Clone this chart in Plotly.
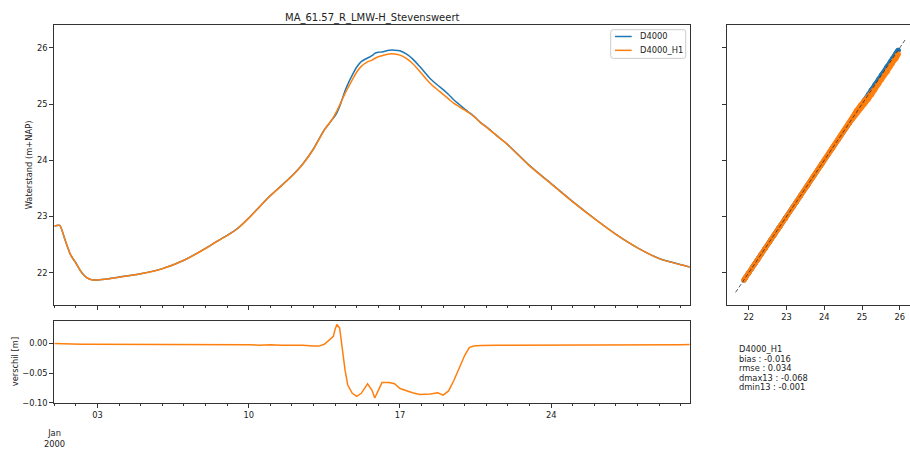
import numpy as np
import pandas as pd
import plotly.graph_objects as go

# ---- data ---------------------------------------------------------------
START = pd.Timestamp("2000-01-01 00:00")

# hours after START
HOURS = [0, 6, 12, 18, 24, 30, 36, 42, 48, 60, 72, 96, 120, 144, 168, 180,
         192, 204, 216, 228, 240, 252, 264, 276, 288, 294, 300, 306, 310, 312,
         314, 317, 319, 323, 326, 331, 336, 341, 348, 353, 356, 360, 364, 372,
         378, 384, 391, 398, 406, 418, 426, 432, 438, 444, 450, 456, 461, 466,
         474, 480, 492, 504, 528, 552, 576, 600, 624, 648, 672, 696, 706]

# water level of run D4000_H1 (m+NAP)
D4000_H1 = [22.83, 22.84, 22.58, 22.32, 22.17, 22.01, 21.91, 21.87, 21.87, 21.89,
            21.92, 21.98, 22.07, 22.22, 22.43, 22.55, 22.66, 22.79, 22.97, 23.17,
            23.37, 23.54, 23.72, 23.93, 24.20, 24.37, 24.54, 24.67, 24.76, 24.82,
            24.88, 24.98, 25.05, 25.19, 25.28, 25.43, 25.57, 25.67, 25.75, 25.78,
            25.81, 25.84, 25.86, 25.89, 25.89, 25.87, 25.81, 25.72, 25.58, 25.36,
            25.25, 25.17, 25.09, 25.01, 24.95, 24.89, 24.84, 24.78, 24.66, 24.59,
            24.43, 24.27, 23.90, 23.58, 23.26, 22.96, 22.68, 22.44, 22.25, 22.14,
            22.10]

# difference D4000_H1 - D4000 (m)
VERSCHIL = [0.000, -0.0005, -0.001, -0.0015, -0.0015, -0.0015, -0.0015, -0.0015,
            -0.0015, -0.0015, -0.0015, -0.0015, -0.0015, -0.0015, -0.002, -0.0015,
            -0.002, -0.0025, -0.002, -0.003, -0.002, -0.003, -0.0025, -0.003,
            -0.0045, -0.0045, -0.0015, 0.006, 0.012, 0.024, 0.032, 0.026, 0.002,
            -0.045, -0.070, -0.084, -0.089, -0.084, -0.068, -0.079, -0.092, -0.080,
            -0.066, -0.066, -0.068, -0.076, -0.080, -0.083, -0.086, -0.085, -0.083,
            -0.087, -0.080, -0.062, -0.041, -0.020, -0.007, -0.0045, -0.0035,
            -0.003, -0.003, -0.003, -0.003, -0.003, -0.0025, -0.003, -0.0025,
            -0.0025, -0.002, -0.002, -0.0017]

TITLE = "MA_61.57_R_LMW-H_Stevensweert"
SERIES_NAMES = ["D4000", "D4000_H1"]
STATS_LINES = ["D4000_H1", "bias : -0.016", "rmse : 0.034",
               "dmax13 : -0.068", "dmin13 : -0.001"]
DIAG = [21.65, 26.16]

times = START + pd.to_timedelta(HOURS, unit="h")
h1 = np.array(D4000_H1)
verschil = np.array(VERSCHIL)
d4000 = h1 - verschil

# ---- styling --------------------------------------------------------------
W, H = 910, 452
BLUE, ORANGE = "#1f77b4", "#ff7f0e"
COLORS = [BLUE, ORANGE]
AX = "#333333"
TXT = "#222222"
FONT = "DejaVu Sans"
FS = 8.3


def fx(px):
    return px / W


def fy(py):
    return 1 - py / H


DAY = 86400000

fig = go.Figure()

# main time series
fig.add_trace(go.Scatter(x=times, y=d4000, name=SERIES_NAMES[0], mode="lines",
                         line=dict(color=BLUE, width=1.5, shape="spline", smoothing=0.6),
                         xaxis="x", yaxis="y", showlegend=False))
fig.add_trace(go.Scatter(x=times, y=h1, name=SERIES_NAMES[1], mode="lines",
                         line=dict(color=ORANGE, width=1.5, shape="spline", smoothing=0.6),
                         xaxis="x", yaxis="y", showlegend=False))

# difference
fig.add_trace(go.Scatter(x=times, y=verschil, mode="lines", showlegend=False,
                         line=dict(color=ORANGE, width=1.5),
                         xaxis="x2", yaxis="y2"))

# scatter of both runs against D4000
fig.add_trace(go.Scatter(x=d4000, y=d4000, mode="lines+markers", showlegend=False,
                         line=dict(color=BLUE, width=5),
                         marker=dict(color=BLUE, size=5),
                         xaxis="x3", yaxis="y3"))
fig.add_trace(go.Scatter(x=d4000, y=h1, mode="lines+markers", showlegend=False,
                         line=dict(color=ORANGE, width=5),
                         marker=dict(color=ORANGE, size=5),
                         xaxis="x3", yaxis="y3"))
fig.add_trace(go.Scatter(x=DIAG, y=DIAG, mode="lines", showlegend=False,
                         line=dict(color="rgba(40,40,40,0.75)", width=1, dash="4px,2px"),
                         xaxis="x3", yaxis="y3"))

axis_common = dict(showline=True, linecolor=AX, linewidth=1, ticks="outside",
                   ticklen=4, tickwidth=1, tickcolor=AX, showgrid=False,
                   zeroline=False, tickfont=dict(family=FONT, size=FS, color=TXT))

t_end = START + pd.Timedelta(hours=706)
date_ticks = dict(tickmode="linear", tick0="2000-01-03", dtick=7 * DAY,
                  tickformat="%d",
                  minor=dict(ticks="outside", ticklen=2, tickcolor=AX,
                             tick0="2000-01-01", dtick=DAY, showgrid=False))

main_dom_x = [fx(54.3), fx(689.8)]
main_dom_y = [fy(308), fy(25.3)]

fig.update_layout(
    width=W, height=H, margin=dict(l=0, r=0, t=0, b=0),
    paper_bgcolor="white", plot_bgcolor="white", showlegend=False,
    font=dict(family=FONT, size=FS, color=TXT),
    xaxis=dict(domain=main_dom_x, anchor="y", matches="x2", mirror=True,
               showticklabels=False, **date_ticks, **axis_common),
    yaxis=dict(domain=main_dom_y, anchor="x", range=[21.432, 26.405],
               tickmode="linear", tick0=22, dtick=1, mirror=True, **axis_common),
    xaxis2=dict(domain=main_dom_x, anchor="y2", range=[START, t_end], mirror=True,
                **date_ticks, **axis_common),
    yaxis2=dict(domain=[fy(407.3), fy(324.3)], anchor="x2", range=[-0.1, 0.0383],
                tickmode="array", tickvals=[-0.10, -0.05, 0.0],
                ticktext=["\u22120.10", "\u22120.05", "0.00"], mirror=True,
                **axis_common),
    xaxis3=dict(domain=[fx(727.3), 1.0], anchor="y3", range=[21.43, 26.27],
                tickmode="linear", tick0=22, dtick=1, mirror=True, **axis_common),
    yaxis3=dict(domain=main_dom_y, anchor="x3", range=[21.432, 26.405],
                tickmode="linear", tick0=22, dtick=1, showticklabels=False,
                **axis_common),
)

# legend box (rounded frame, line samples and labels)
lx0, lx1, ly0, ly1, r = 610.7, 685.7, 30.0, 59.0, 2.5
frame = (f"M {fx(lx0 + r)},{fy(ly0)} L {fx(lx1 - r)},{fy(ly0)} "
         f"Q {fx(lx1)},{fy(ly0)} {fx(lx1)},{fy(ly0 + r)} "
         f"L {fx(lx1)},{fy(ly1 - r)} Q {fx(lx1)},{fy(ly1)} {fx(lx1 - r)},{fy(ly1)} "
         f"L {fx(lx0 + r)},{fy(ly1)} Q {fx(lx0)},{fy(ly1)} {fx(lx0)},{fy(ly1 - r)} "
         f"L {fx(lx0)},{fy(ly0 + r)} Q {fx(lx0)},{fy(ly0)} {fx(lx0 + r)},{fy(ly0)} Z")
shapes = [dict(type="path", path=frame, xref="paper", yref="paper",
               line=dict(color="#cccccc", width=1),
               fillcolor="rgba(255,255,255,0.8)", layer="above")]
annotations = []
for i, (name, col) in enumerate(zip(SERIES_NAMES, COLORS)):
    yy = 36.9 + 14.0 * i
    shapes.append(dict(type="line", xref="paper", yref="paper",
                       x0=fx(615), x1=fx(631.7), y0=fy(yy), y1=fy(yy),
                       line=dict(color=col, width=1.5), layer="above"))
    annotations.append(dict(text=name, x=fx(637.5), y=fy(yy), xref="paper",
                            yref="paper", xanchor="left", yanchor="middle",
                            showarrow=False,
                            font=dict(family=FONT, size=FS, color=TXT)))

annotations += [
    dict(text=TITLE, x=fx(372), y=fy(18), xref="paper", yref="paper",
         xanchor="center", yanchor="middle", showarrow=False,
         font=dict(family=FONT, size=10, color=TXT)),
    dict(text="Waterstand (m+NAP)", x=fx(28.5), y=fy(166.7), xref="paper",
         yref="paper", textangle=-90, xanchor="center", yanchor="middle",
         showarrow=False, font=dict(family=FONT, size=FS, color=TXT)),
    dict(text="verschil [m]", x=fx(14.5), y=fy(365.8), xref="paper",
         yref="paper", textangle=-90, xanchor="center", yanchor="middle",
         showarrow=False, font=dict(family=FONT, size=FS, color=TXT)),
    dict(text="Jan<br>2000", x=START, y=fy(443.5), xref="x2", yref="paper",
         xanchor="center", yanchor="middle", showarrow=False,
         font=dict(family=FONT, size=FS, color=TXT)),
]
for i, line in enumerate(STATS_LINES):
    annotations.append(dict(text=line, x=fx(736.7), y=fy(353 + 9.7 * i),
                            xref="paper", yref="paper", xanchor="left",
                            yanchor="middle", showarrow=False,
                            font=dict(family=FONT, size=FS, color=TXT)))
fig.update_layout(shapes=shapes, annotations=annotations)

fig.write_html("out.html")
